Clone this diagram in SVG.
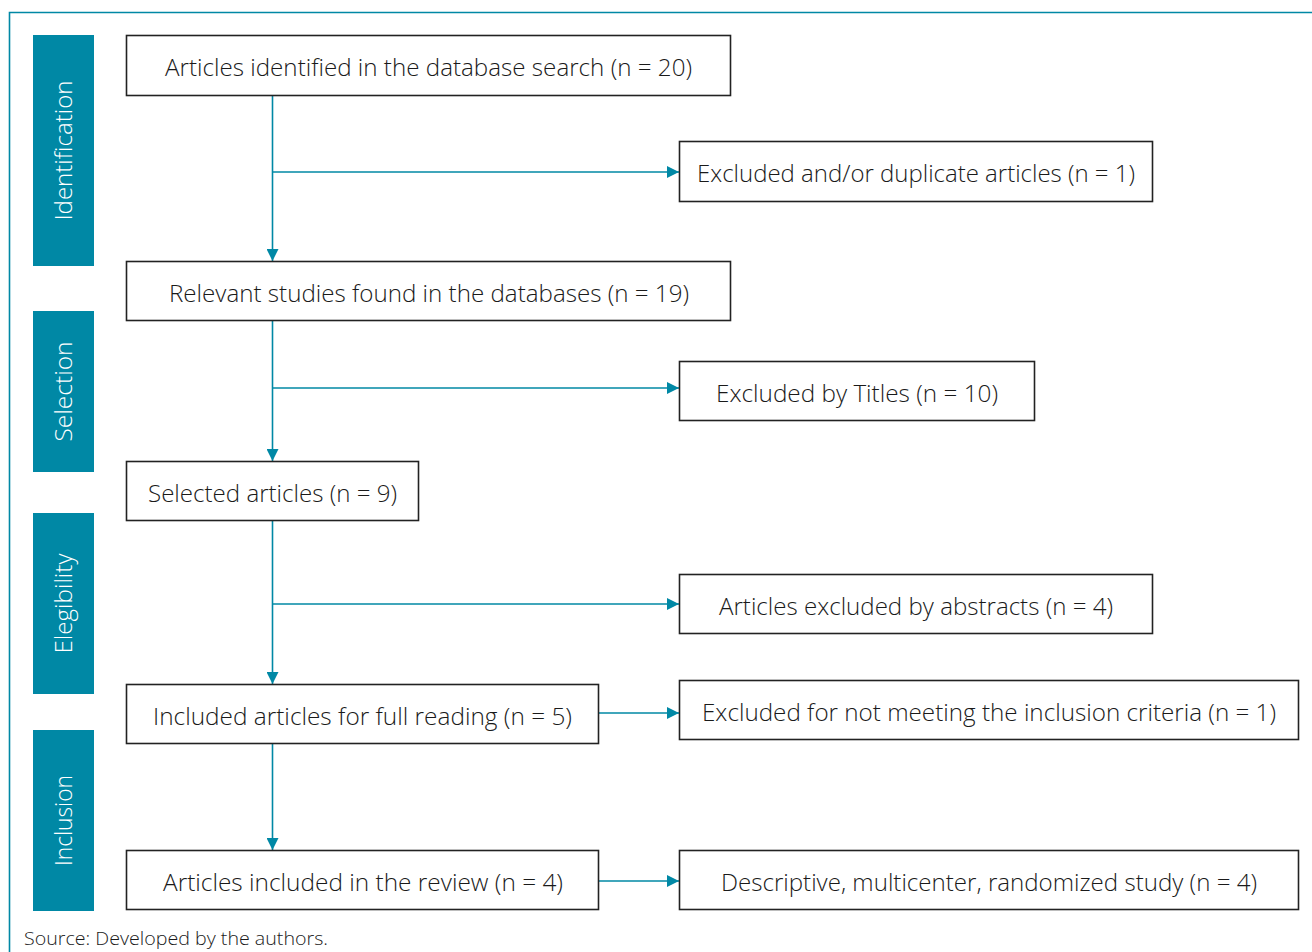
<svg xmlns="http://www.w3.org/2000/svg" width="1312" height="952" viewBox="0 0 1312 952">
<style>
.bar{fill:#0088a5}
.bt{fill:#ffffff;font-family:"Open Sans","Noto Sans","DejaVu Sans",sans-serif;font-weight:300;font-size:24px;text-anchor:middle}
.box{fill:#ffffff;stroke:#222222;stroke-width:1.6}
.t{fill:#1a1a1a;font-family:"Open Sans","Noto Sans","DejaVu Sans",sans-serif;font-weight:300;font-size:24px;text-anchor:middle}
.c{fill:none;stroke:#0088a5;stroke-width:1.6}
.src{fill:#1a1a1a;font-family:"Open Sans","Noto Sans","DejaVu Sans",sans-serif;font-weight:300;font-size:17.5px}
</style>
<defs>
<marker id="ah" markerWidth="12" markerHeight="12" viewBox="0 0 12 12" refX="12" refY="6" orient="auto" markerUnits="userSpaceOnUse">
<path d="M0,0 L12,6 L0,12 Z" fill="#0088a5"/>
</marker>
</defs>
<rect width="1312" height="952" fill="#ffffff"/>
<path d="M9.5,952 V12.5 H1312" fill="none" stroke="#0088a5" stroke-width="1.6"/>

<g id="phase-identification">
<rect class="bar" x="33" y="35" width="61" height="231"/>
<text class="bt" transform="translate(72,150.5) rotate(-90)" textLength="140" lengthAdjust="spacingAndGlyphs">Identification</text>
</g>
<g id="phase-selection">
<rect class="bar" x="33" y="311" width="61" height="161"/>
<text class="bt" transform="translate(72,391.5) rotate(-90)" textLength="100" lengthAdjust="spacingAndGlyphs">Selection</text>
</g>
<g id="phase-elegibility">
<rect class="bar" x="33" y="513" width="61" height="181"/>
<text class="bt" transform="translate(72,603.5) rotate(-90)" textLength="100" lengthAdjust="spacingAndGlyphs">Elegibility</text>
</g>
<g id="phase-inclusion">
<rect class="bar" x="33" y="730" width="61" height="181"/>
<text class="bt" transform="translate(72,820.5) rotate(-90)" textLength="91" lengthAdjust="spacingAndGlyphs">Inclusion</text>
</g>

<g id="connectors">
<path class="c" d="M272.5,96 V261" marker-end="url(#ah)"/>
<path class="c" d="M272.5,172 H679" marker-end="url(#ah)"/>
<path class="c" d="M272.5,321 V461" marker-end="url(#ah)"/>
<path class="c" d="M272.5,388 H679" marker-end="url(#ah)"/>
<path class="c" d="M272.5,521 V684" marker-end="url(#ah)"/>
<path class="c" d="M272.5,604 H679" marker-end="url(#ah)"/>
<path class="c" d="M599,713 H679" marker-end="url(#ah)"/>
<path class="c" d="M272.5,744 V850" marker-end="url(#ah)"/>
<path class="c" d="M599,881 H679" marker-end="url(#ah)"/>
</g>

<g id="n1">
<rect class="box" x="126.5" y="35.5" width="604" height="60"/>
<text class="t" x="428.5" y="76" textLength="527" lengthAdjust="spacingAndGlyphs">Articles identified in the database search (n = 20)</text>
</g>
<g id="e1">
<rect class="box" x="679.5" y="141.5" width="473" height="60"/>
<text class="t" x="916" y="182" textLength="438" lengthAdjust="spacingAndGlyphs">Excluded and/or duplicate articles (n = 1)</text>
</g>
<g id="n2">
<rect class="box" x="126.5" y="261.5" width="604" height="59"/>
<text class="t" x="429" y="301.5" textLength="520" lengthAdjust="spacingAndGlyphs">Relevant studies found in the databases (n = 19)</text>
</g>
<g id="e2">
<rect class="box" x="679.5" y="361.5" width="355" height="59"/>
<text class="t" x="857" y="401.5" textLength="282" lengthAdjust="spacingAndGlyphs">Excluded by Titles (n = 10)</text>
</g>
<g id="n3">
<rect class="box" x="126.5" y="461.5" width="292" height="59"/>
<text class="t" x="272.5" y="501.5" textLength="249" lengthAdjust="spacingAndGlyphs">Selected articles (n = 9)</text>
</g>
<g id="e3">
<rect class="box" x="679.5" y="574.5" width="473" height="59"/>
<text class="t" x="916" y="614.5" textLength="394" lengthAdjust="spacingAndGlyphs">Articles excluded by abstracts (n = 4)</text>
</g>
<g id="n4">
<rect class="box" x="126.5" y="684.5" width="472" height="59"/>
<text class="t" x="362.5" y="724.5" textLength="419" lengthAdjust="spacingAndGlyphs">Included articles for full reading (n = 5)</text>
</g>
<g id="e4">
<rect class="box" x="679.5" y="680.5" width="619" height="59"/>
<text class="t" x="989" y="720.5" textLength="574" lengthAdjust="spacingAndGlyphs">Excluded for not meeting the inclusion criteria (n = 1)</text>
</g>
<g id="n5">
<rect class="box" x="126.5" y="850.5" width="472" height="59"/>
<text class="t" x="363" y="890.5" textLength="400" lengthAdjust="spacingAndGlyphs">Articles included in the review (n = 4)</text>
</g>
<g id="e5">
<rect class="box" x="679.5" y="850.5" width="619" height="59"/>
<text class="t" x="989" y="890.5" textLength="536" lengthAdjust="spacingAndGlyphs">Descriptive, multicenter, randomized study (n = 4)</text>
</g>

<text class="src" x="24" y="945" textLength="304" lengthAdjust="spacingAndGlyphs">Source: Developed by the authors.</text>
</svg>
